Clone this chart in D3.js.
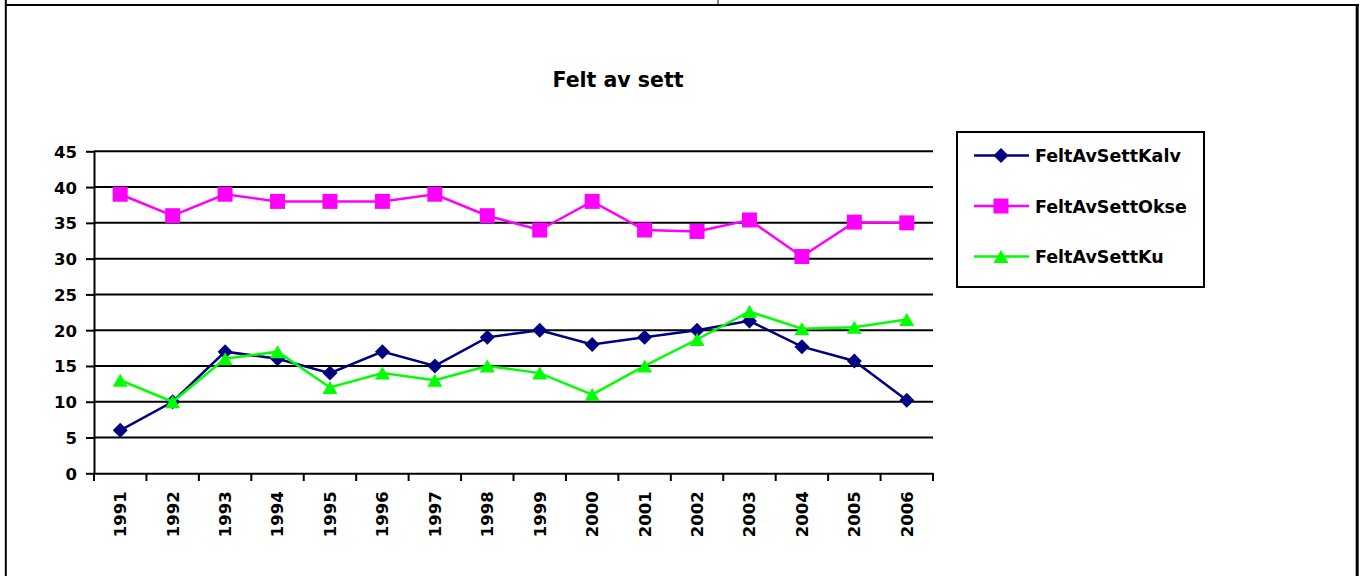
<!DOCTYPE html>
<html>
<head>
<meta charset="utf-8">
<script src="https://cdn.jsdelivr.net/npm/d3@7"></script>
<style>
  html, body { margin: 0; padding: 0; background: #fff; }
  svg { display: block; }
  text { font-family: "DejaVu Sans", Arial, sans-serif; font-weight: bold; fill: #000; }
</style>
</head>
<body>
<svg id="chart" width="1362" height="576"></svg>
<script>
// Annual "felt av sett" figures per animal class
const years = ["1991","1992","1993","1994","1995","1996","1997","1998","1999","2000","2001","2002","2003","2004","2005","2006"];
const kalv  = [6, 10, 17, 16, 14, 17, 15, 19, 20, 18, 19, 20, 21.3, 17.7, 15.7, 10.2];
const okse  = [39, 36, 39, 38, 38, 38, 39, 36, 34, 38, 34, 33.8, 35.4, 30.3, 35.1, 35];
const ku    = [13, 10, 16, 17, 12, 14, 13, 15, 14, 11, 15, 18.7, 22.6, 20.2, 20.4, 21.5];
const yTicks = [0, 5, 10, 15, 20, 25, 30, 35, 40, 45];
const seriesNames = ["FeltAvSettKalv", "FeltAvSettOkse", "FeltAvSettKu"];
const chartTitle = "Felt av sett";

// Marker shapes sized by half-width / half-height
const diamond = (hw, hh) => ({
  draw(ctx) {
    ctx.moveTo(0, -hh); ctx.lineTo(hw, 0); ctx.lineTo(0, hh); ctx.lineTo(-hw, 0); ctx.closePath();
  }
});
const square = (h) => ({
  draw(ctx) { ctx.rect(-h, -h, 2 * h, 2 * h); }
});
const triangle = (hw, hh) => ({
  draw(ctx) {
    ctx.moveTo(0, -hh); ctx.lineTo(hw, hh); ctx.lineTo(-hw, hh); ctx.closePath();
  }
});

const series = [
  { name: seriesNames[0], values: kalv, color: "#000080", marker: diamond(7.5, 7.5) },
  { name: seriesNames[1], values: okse, color: "#FF00FF", marker: square(7.5) },
  { name: seriesNames[2], values: ku,   color: "#00FF00", marker: triangle(7.5, 6.5) }
];

const svg = d3.select("#chart");

// Frame lines around the sheet area
const frame = svg.append("g").attr("stroke", "#000").attr("fill", "none");
frame.append("line").attr("x1", 5.8).attr("x2", 5.8).attr("y1", 0).attr("y2", 576).attr("stroke-width", 2);
frame.append("line").attr("x1", 5).attr("x2", 1359).attr("y1", 4.9).attr("y2", 4.9).attr("stroke-width", 2);
frame.append("line").attr("x1", 1357.2).attr("x2", 1357.2).attr("y1", 4).attr("y2", 576).attr("stroke-width", 3);
frame.append("line").attr("x1", 718).attr("x2", 718).attr("y1", 0).attr("y2", 4).attr("stroke-width", 1);

// Scales
const x = d3.scaleBand().domain(years).range([94, 933]);
const y = d3.scaleLinear().domain([0, 45]).range([473.3, 151.3]);
const cx = d => x(d) + x.bandwidth() / 2;

// Title
svg.append("text")
  .attr("x", 618).attr("y", 87)
  .attr("text-anchor", "middle")
  .style("font-size", "20.5px")
  .text(chartTitle);

// Horizontal gridlines
svg.append("g")
  .selectAll("line")
  .data(yTicks.filter(v => v > 0))
  .join("line")
  .attr("x1", 94).attr("x2", 933)
  .attr("y1", d => y(d)).attr("y2", d => y(d))
  .attr("stroke", "#000").attr("stroke-width", 2);

const labelFont = sel => sel
  .style("font-size", "16.5px")
  .style("font-family", "'DejaVu Sans', Arial, sans-serif")
  .style("font-weight", "bold")
  .attr("fill", "#000");

// Y axis
const yAxis = svg.append("g")
  .attr("transform", "translate(94,0)")
  .call(d3.axisLeft(y).tickValues(yTicks).tickSize(8).tickPadding(9).tickSizeOuter(0));
yAxis.select(".domain").attr("stroke", "#000").attr("stroke-width", 2);
yAxis.selectAll(".tick line").attr("stroke", "#000").attr("stroke-width", 2);
yAxis.selectAll(".tick text").call(labelFont).attr("dy", "0.36em");

// X axis: labels at category centres, ticks at category boundaries
const xAxis = svg.append("g")
  .attr("transform", "translate(0,473.3)")
  .call(d3.axisBottom(x).tickSize(0).tickSizeOuter(0));
xAxis.select(".domain").attr("stroke", "#000").attr("stroke-width", 2);
xAxis.selectAll(".tick text")
  .attr("transform", "rotate(-90)")
  .attr("text-anchor", "end")
  .attr("x", -18)
  .attr("y", 0)
  .attr("dy", "0.36em")
  .call(labelFont);

const boundaries = years.map(d => x(d)).concat([x.range()[1]]);
svg.append("g")
  .selectAll("line")
  .data(boundaries)
  .join("line")
  .attr("x1", d => d).attr("x2", d => d)
  .attr("y1", 473.3).attr("y2", 481)
  .attr("stroke", "#000").attr("stroke-width", 2);

// Series lines and markers
const line = d3.line().x((d, i) => cx(years[i])).y(d => y(d));

series.forEach(s => {
  const g = svg.append("g");
  g.append("path")
    .datum(s.values)
    .attr("d", line)
    .attr("fill", "none")
    .attr("stroke", s.color)
    .attr("stroke-width", 2.5);
  g.selectAll("path.mk")
    .data(s.values)
    .join("path")
    .attr("class", "mk")
    .attr("d", d3.symbol(s.marker))
    .attr("transform", (d, i) => `translate(${cx(years[i])},${y(d)})`)
    .attr("fill", s.color);
});

// Legend
const legend = svg.append("g");
legend.append("rect")
  .attr("x", 957).attr("y", 132)
  .attr("width", 247).attr("height", 155)
  .attr("fill", "#fff").attr("stroke", "#000").attr("stroke-width", 2);

series.forEach((s, i) => {
  const ly = 155.5 + i * 50.5;
  legend.append("line")
    .attr("x1", 974).attr("x2", 1029)
    .attr("y1", ly).attr("y2", ly)
    .attr("stroke", s.color).attr("stroke-width", 2.5);
  legend.append("path")
    .attr("d", d3.symbol(s.marker))
    .attr("transform", `translate(1001,${ly})`)
    .attr("fill", s.color);
  legend.append("text")
    .attr("x", 1035).attr("y", ly)
    .attr("dy", "0.38em")
    .style("font-size", "17.5px")
    .text(s.name);
});
</script>
</body>
</html>
